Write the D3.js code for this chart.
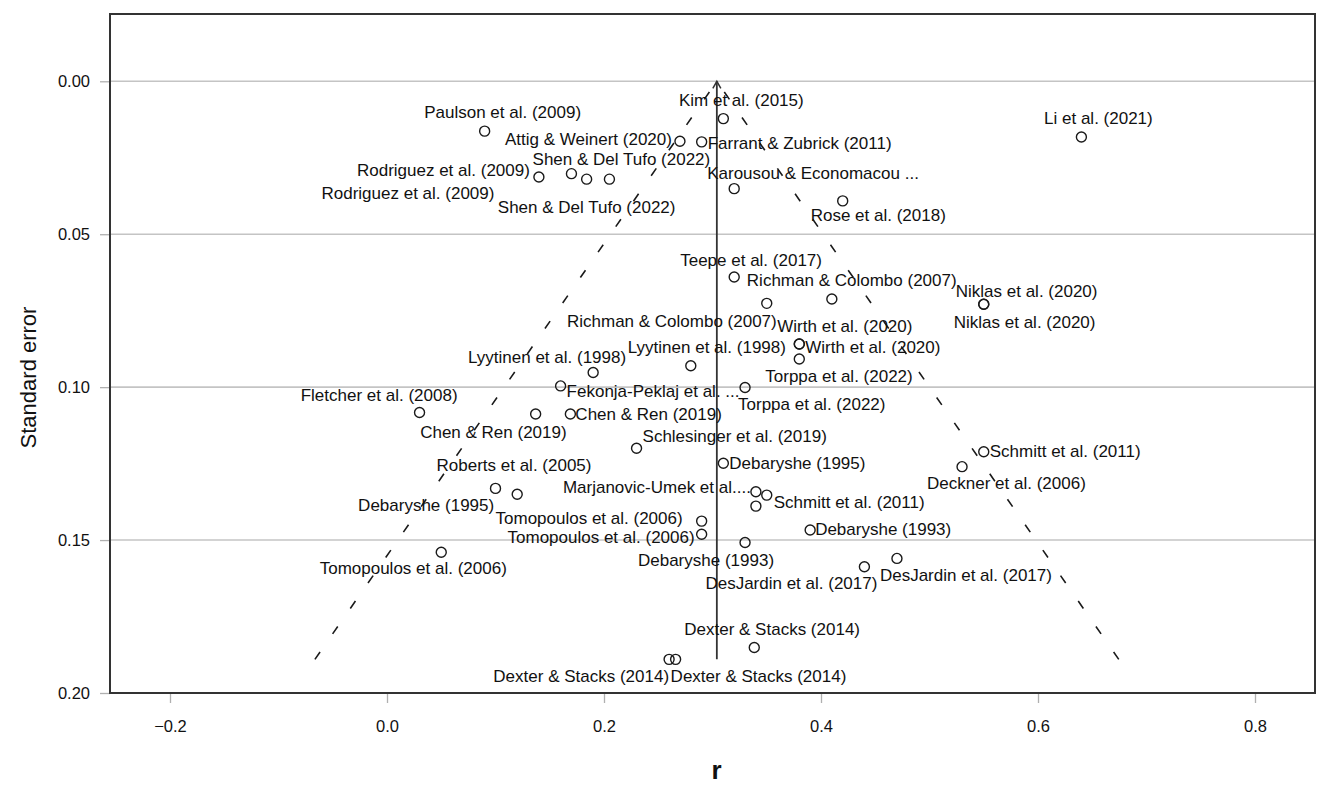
<!DOCTYPE html>
<html>
<head>
<meta charset="utf-8">
<script src="https://cdn.jsdelivr.net/npm/d3@7"></script>
<style>
  html, body { margin: 0; padding: 0; background: #fff; }
  #chart { width: 1325px; height: 785px; }
  text { font-family: 'Liberation Sans', Arial, sans-serif; fill: #111; }
</style>
</head>
<body>
<div id="chart"></div>
<script>
// funnel plot: r against standard error, one circle per effect size
const studies = [
  'Paulson et al. (2009)', 'Kim et al. (2015)', 'Attig & Weinert (2020)', 'Farrant & Zubrick (2011)',
  'Li et al. (2021)', 'Rodriguez et al. (2009)', 'Rodriguez et al. (2009)', 'Shen & Del Tufo (2022)',
  'Shen & Del Tufo (2022)', 'Karousou & Economacou ...', 'Rose et al. (2018)', 'Teepe et al. (2017)',
  'Richman & Colombo (2007)', 'Niklas et al. (2020)', 'Niklas et al. (2020)', 'Richman & Colombo (2007)',
  'Wirth et al. (2020)', 'Wirth et al. (2020)', 'Torppa et al. (2022)', 'Lyytinen et al. (1998)',
  'Lyytinen et al. (1998)', 'Torppa et al. (2022)', 'Fletcher et al. (2008)', 'Fekonja-Peklaj et al. ...',
  'Chen & Ren (2019)', 'Chen & Ren (2019)', 'Schlesinger et al. (2019)', 'Schmitt et al. (2011)',
  'Roberts et al. (2005)', 'Debaryshe (1995)', 'Debaryshe (1995)', 'Deckner et al. (2006)',
  'Marjanovic-Umek et al....', 'Schmitt et al. (2011)', '', 'Tomopoulos et al. (2006)',
  'Tomopoulos et al. (2006)', 'Tomopoulos et al. (2006)', 'Debaryshe (1993)', 'Debaryshe (1993)',
  'DesJardin et al. (2017)', 'DesJardin et al. (2017)', 'Dexter & Stacks (2014)', 'Dexter & Stacks (2014)',
  'Dexter & Stacks (2014)',
]
const rValues = [
  0.09, 0.31, 0.27, 0.29, 0.64, 0.14, 0.17, 0.184, 0.205, 0.32, 0.42, 0.32, 0.41, 0.55, 0.55,
  0.35, 0.38, 0.38, 0.38, 0.19, 0.28, 0.33, 0.03, 0.16, 0.137, 0.169, 0.23, 0.55, 0.10, 0.12,
  0.31, 0.53, 0.34, 0.35, 0.34, 0.29, 0.29, 0.05, 0.33, 0.39, 0.44, 0.47, 0.3385, 0.26, 0.266,
]
const seValues = [
  0.0163, 0.0122, 0.0196, 0.0198, 0.0182, 0.0313, 0.0302, 0.032, 0.032, 0.0351, 0.0391, 0.064,
  0.0712, 0.0729, 0.0729, 0.0726, 0.0859, 0.0859, 0.0908, 0.0952, 0.093, 0.1001, 0.1083, 0.0996,
  0.1088, 0.1088, 0.12, 0.1211, 0.1331, 0.135, 0.1249, 0.126, 0.1342, 0.1353, 0.1389, 0.1438,
  0.1481, 0.154, 0.1508, 0.1467, 0.1587, 0.156, 0.1851, 0.189, 0.189,
]
const pooledR = 0.304
const maxSe = 0.189
const xTicks = [-0.2, 0.0, 0.2, 0.4, 0.6, 0.8]
const yTicks = [0.0, 0.05, 0.1, 0.15, 0.2]

// where each label sits next to its circle: [anchor, dx, dy]
const labelPlacement = [
  ['middle', 18, -19], ['middle', 18, -18], ['end', -8, -2], ['start', 6, 2], ['middle', 17, -18],
  ['end', -9, -7], ['end', -77, 20], ['middle', 0, 28], ['middle', 12, -20], ['start', -27, -15],
  ['start', -32, 15], ['start', -54, -17], ['start', -85, -19], ['start', -28, -13], ['start', -30, 18],
  ['end', 10, 18], ['start', -22, -18], ['start', 6, 3], ['start', -34, 17], ['end', 33, -15],
  ['start', -63, -18], ['start', -7, 17], ['end', 38, -17], ['start', 6, 6], ['end', 31, 18],
  ['start', 5, 0], ['start', 6, -12], ['start', 6, 0], ['start', -59, -23], ['end', -23, 11],
  ['start', 6, 0], ['start', -35, 17], ['end', -5, -4], ['start', 7, 7], ['start', 0, 0],
  ['end', -19, -3], ['end', -7, 3], ['middle', -28, 16], ['end', 29, 18], ['start', 5, 0],
  ['end', 13, 17], ['start', -17, 17], ['start', -70, -18], ['end', 0, 17], ['start', -5, 17],
]

const width = 1325
const height = 785
const plot = { left: 110, right: 1315, top: 14, bottom: 693 }

const x = d3.scaleLinear().domain([-0.2553, 0.8553]).range([plot.left, plot.right])
const y = d3.scaleLinear().domain([-0.022, 0.2]).range([plot.top, plot.bottom])

const svg = d3
  .select('#chart')
  .append('svg')
  .attr('width', width)
  .attr('height', height)
  .attr('viewBox', [0, 0, width, height])

svg.append('rect').attr('width', width).attr('height', height).attr('fill', '#fff')

// gridlines
svg
  .append('g')
  .selectAll('line')
  .data(yTicks.slice(0, -1))
  .join('line')
  .attr('x1', plot.left)
  .attr('x2', plot.right)
  .attr('y1', (d) => y(d))
  .attr('y2', (d) => y(d))
  .attr('stroke', '#c4c4c4')
  .attr('stroke-width', 1.6)

// axes
const axisLeft = d3.axisLeft(y).tickValues(yTicks).tickFormat(d3.format('.2f')).tickSize(10).tickPadding(10)
const axisBottom = d3.axisBottom(x).tickValues(xTicks).tickFormat(d3.format('.1f')).tickSize(10).tickPadding(17)

const gy = svg.append('g').attr('transform', `translate(${plot.left} 0)`).call(axisLeft)
const gx = svg.append('g').attr('transform', `translate(0 ${plot.bottom})`).call(axisBottom)
;[gx, gy].forEach((g) => {
  g.select('.domain').remove()
  g.selectAll('.tick line').attr('stroke', '#b0b0b0').attr('stroke-width', 1.3)
  g.selectAll('.tick text')
    .attr('font-size', 16.5)
    .attr('font-family', "'Liberation Sans', Arial, sans-serif")
    .attr('fill', '#111')
})

// frame
svg
  .append('rect')
  .attr('x', plot.left)
  .attr('y', plot.top)
  .attr('width', plot.right - plot.left)
  .attr('height', plot.bottom - plot.top)
  .attr('fill', 'none')
  .attr('stroke', '#333')
  .attr('stroke-width', 2)

// funnel: pooled r +/- 1.96 se
const funnel = d3
  .line()
  .x((d) => x(d[0]))
  .y((d) => y(d[1]))
;[-1.96, 1.96].forEach((z) => {
  svg
    .append('path')
    .attr('d', funnel([[pooledR + z * maxSe, maxSe], [pooledR, 0]]))
    .attr('fill', 'none')
    .attr('stroke', '#1a1a1a')
    .attr('stroke-width', 1.6)
    .attr('stroke-dasharray', '9 22')
})

// vertical line at pooled estimate, with arrow head
svg
  .append('line')
  .attr('x1', x(pooledR))
  .attr('x2', x(pooledR))
  .attr('y1', y(maxSe))
  .attr('y2', y(0))
  .attr('stroke', '#333')
  .attr('stroke-width', 1.8)
svg
  .append('path')
  .attr('d', `M${x(pooledR) - 4},${y(0) + 7}L${x(pooledR)},${y(0)}L${x(pooledR) + 4},${y(0) + 7}`)
  .attr('fill', 'none')
  .attr('stroke', '#333')
  .attr('stroke-width', 1.5)

const points = studies.map((name, i) => ({
  name,
  r: rValues[i],
  se: seValues[i],
  place: labelPlacement[i],
}))

// circles
svg
  .append('g')
  .selectAll('circle')
  .data(points)
  .join('circle')
  .attr('cx', (d) => x(d.r))
  .attr('cy', (d) => y(d.se))
  .attr('r', 5)
  .attr('fill', 'none')
  .attr('stroke', '#1a1a1a')
  .attr('stroke-width', 1.4)

// labels
svg
  .append('g')
  .selectAll('text')
  .data(points.filter((d) => d.name))
  .join('text')
  .attr('x', (d) => x(d.r) + d.place[1])
  .attr('y', (d) => y(d.se) + d.place[2])
  .attr('text-anchor', (d) => d.place[0])
  .attr('dominant-baseline', 'central')
  .attr('font-size', 17)
  .text((d) => d.name)

// axis titles
svg
  .append('text')
  .attr('transform', `translate(28 ${(plot.top + plot.bottom) / 2 + 24}) rotate(-90)`)
  .attr('text-anchor', 'middle')
  .attr('dominant-baseline', 'central')
  .attr('font-size', 22)
  .text('Standard error')

svg
  .append('text')
  .attr('x', (plot.left + plot.right) / 2 + 4)
  .attr('y', 779)
  .attr('text-anchor', 'middle')
  .attr('font-size', 26)
  .attr('font-weight', 'bold')
  .text('r')
</script>
</body>
</html>
